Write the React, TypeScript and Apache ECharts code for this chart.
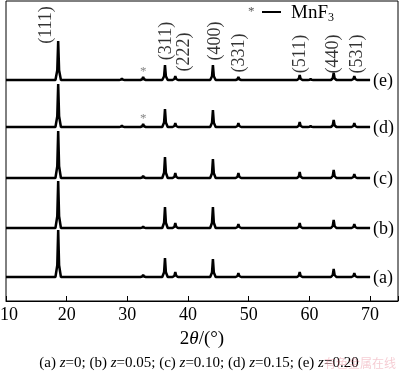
import React, { useEffect, useRef } from 'react';
import * as echarts from 'echarts';

const SAMPLE_LABELS = ['(a)', '(b)', '(c)', '(d)', '(e)'];
const OFFSETS = [24, 73, 123, 174, 221];
const PEAK_POS = [18.6, 29.1, 32.6, 36.2, 37.9, 44.1, 48.3, 58.4, 60.2, 64.0, 67.4];
const HEIGHTS_A = [47, 0, 2, 19, 5, 18, 4, 5, 0, 8, 4];
const HEIGHTS_B = [47, 0, 1.5, 21, 5, 21, 4, 5, 0, 8, 4];
const HEIGHTS_C = [47, 0, 2, 21, 5, 19, 5, 6, 0, 8, 4];
const HEIGHTS_D = [43, 1.5, 3, 18, 4, 17, 4, 5, 1, 7, 4];
const HEIGHTS_E = [39, 1.5, 3, 15, 4, 15, 3, 5, 1, 7, 4];
const HEIGHTS = [HEIGHTS_A, HEIGHTS_B, HEIGHTS_C, HEIGHTS_D, HEIGHTS_E];
const X_START = 10;
const X_END = 70;
const MNF3_POS = 32.6;
const MNF3_MARKED = [3, 4];
const HKL_LABELS = ['(111)', '(311)', '(222)', '(400)', '(331)', '(511)', '(440)', '(531)'];
const HKL_X = [16.4, 36.2, 39.2, 44.3, 48.2, 58.3, 63.7, 67.7];
const HKL_Y = [276, 260, 249, 260, 248, 247, 247, 247];
const X_TICKS = [10, 20, 30, 40, 50, 60, 70];

const FONT = "'Liberation Serif', 'Times New Roman', serif";

function buildPattern(heights: number[], off: number): number[][] {
  const pts: number[][] = [[X_START, off]];
  PEAK_POS.forEach((p, i) => {
    const h = heights[i];
    if (h <= 0) return;
    pts.push([p - 0.45, off], [p - 0.15, off + 0.25 * h], [p, off + h], [p + 0.15, off + 0.25 * h], [p + 0.45, off]);
  });
  pts.push([X_END, off]);
  return pts;
}

export default function App() {
  const ref = useRef<HTMLDivElement>(null);
  useEffect(() => {
    if (!ref.current) return;
    const chart = echarts.init(ref.current, null, { renderer: 'svg' });
    const lineSeries = HEIGHTS.map((h, i) => ({
      type: 'line',
      data: buildPattern(h, OFFSETS[i]),
      showSymbol: false,
      symbol: 'none',
      lineStyle: { color: '#000', width: 2.5 },
      endLabel: {
        show: true,
        formatter: SAMPLE_LABELS[i],
        fontSize: 18,
        fontFamily: FONT,
        color: '#000',
        distance: 3,
      },
      silent: true,
    }));
    const option = {
      animation: false,
      grid: {
        left: 6, right: 2, top: 1, bottom: 73, show: true, borderColor: '#000', borderWidth: 1,
        containLabel: false, outerBoundsMode: 'none',
      },
      xAxis: {
        type: 'value',
        min: 10,
        max: 74.6,
        interval: 10,
        splitLine: { show: false },
        axisLine: { lineStyle: { color: '#000', width: 1 } },
        axisTick: { inside: true, length: 5, lineStyle: { color: '#000' } },
        axisLabel: {
          color: '#000', fontSize: 18, fontFamily: FONT, margin: 4,
          formatter: (v: number) => (v === X_TICKS[0] ? '{m|' + v + '}' : X_TICKS.includes(v) ? String(v) : ''),
          rich: { m: { fontSize: 18, fontFamily: FONT, color: '#000', padding: [0, 0, 0, 6] } },
        },
        name: '2{i|θ}/(°)',
        nameLocation: 'middle',
        nameGap: 27,
        nameTextStyle: {
          color: '#000', fontSize: 19, fontFamily: FONT,
          rich: { i: { fontStyle: 'italic', fontSize: 19, fontFamily: FONT, color: '#000' } },
        },
      },
      yAxis: { type: 'value', min: 0, max: 300, show: false },
      series: [
        ...lineSeries,
        {
          type: 'scatter',
          symbolSize: 0,
          silent: true,
          data: HKL_LABELS.map((t, i) => [HKL_X[i], HKL_Y[i], t]),
          label: {
            show: true,
            position: 'inside',
            rotate: 90,
            formatter: (p: any) => p.data[2],
            fontSize: 18,
            fontFamily: FONT,
            color: '#000',
          },
        },
        {
          type: 'scatter',
          symbolSize: 0,
          silent: true,
          data: MNF3_MARKED.map((i) => [MNF3_POS, OFFSETS[i] + 10]),
          label: { show: true, position: 'inside', formatter: '*', fontSize: 13, fontFamily: FONT, color: '#666' },
        },
      ],
      graphic: [
        { type: 'text', left: 248, top: 4, style: { text: '*', fontSize: 13, fontFamily: FONT, fill: '#555' } },
        { type: 'line', shape: { x1: 262, y1: 12, x2: 281, y2: 12 }, style: { stroke: '#000', lineWidth: 2 } },
        {
          type: 'text', left: 291, top: 2,
          style: {
            text: 'MnF{s|3}', fontSize: 19, fontFamily: FONT, fill: '#000',
            rich: { s: { fontSize: 12, fontFamily: FONT, fill: '#000', verticalAlign: 'bottom', padding: [10, 0, 0, 0] } },
          },
        },
        {
          type: 'text', x: 199, y: 362,
          style: {
            text: '(a) {i|z}=0; (b) {i|z}=0.05; (c) {i|z}=0.10; (d) {i|z}=0.15; (e) {i|z}=0.20',
            fontSize: 15, fontFamily: FONT, fill: '#000', align: 'center', verticalAlign: 'middle',
            rich: { i: { fontStyle: 'italic', fontSize: 15, fontFamily: FONT, fill: '#000' } },
          },
        },
        {
          type: 'text', x: 324, y: 362,
          style: {
            text: '有色金属在线', fontSize: 12, fontFamily: "'Noto Sans CJK SC'", fill: 'rgba(225,110,130,0.35)',
            verticalAlign: 'middle',
          },
        },
      ],
    };
    chart.setOption(option as any);
    return () => chart.dispose();
  }, []);
  return <div ref={ref} style={{ position: 'fixed', left: 0, top: 0, width: 400, height: 374 }} />;
}
